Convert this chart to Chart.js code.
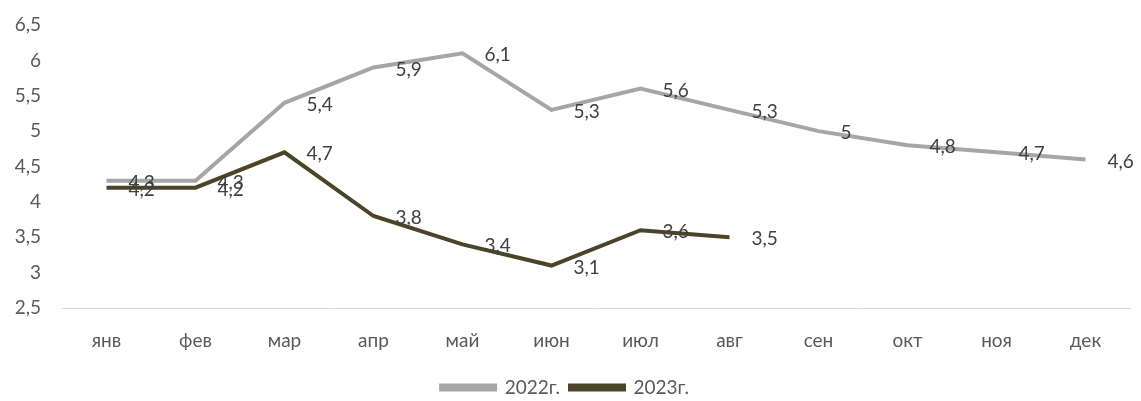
<!DOCTYPE html>
<html>
<head>
<meta charset="utf-8">
<script src="https://cdn.jsdelivr.net/npm/chart.js@4"></script>
<style>
    html, body { margin: 0; padding: 0; background: #fff; }
    #wrap { width: 1141px; height: 401px; position: relative; }
</style>
</head>
<body>
<div id="wrap"><canvas id="chart"></canvas></div>
<script>
// Data
const months = ['янв', 'фев', 'мар', 'апр', 'май', 'июн', 'июл', 'авг', 'сен', 'окт', 'ноя', 'дек'];
const values2022 = [4.3, 4.3, 5.4, 5.9, 6.1, 5.3, 5.6, 5.3, 5, 4.8, 4.7, 4.6];
const values2023 = [4.2, 4.2, 4.7, 3.8, 3.4, 3.1, 3.6, 3.5];
const yTicks = [2.5, 3, 3.5, 4, 4.5, 5, 5.5, 6, 6.5];

const colors = {
    y2022: '#a6a6a6',
    y2023: '#4b4429',
    axis: '#595959',
    label: '#404040',
    line: '#d9d9d9'
};

const FONT = 'Lato';
const fmt = v => String(v).replace('.', ',');

// Excel-style "right" data labels
const labelsPlugin = {
    id: 'pointLabels',
    afterDatasetsDraw(chart) {
        const ctx = chart.ctx;
        ctx.save();
        ctx.font = `19px ${FONT}`;
        ctx.fillStyle = colors.label;
        ctx.textAlign = 'left';
        ctx.textBaseline = 'middle';
        chart.data.datasets.forEach((ds, i) => {
            chart.getDatasetMeta(i).data.forEach((pt, j) => {
                ctx.fillText(fmt(ds.data[j]), pt.x + 22, pt.y + 2);
            });
        });
        ctx.restore();
    }
};

new Chart(document.getElementById('chart'), {
    type: 'line',
    data: {
        labels: months,
        datasets: [
            {
                label: '2022г.',
                data: values2022,
                borderColor: colors.y2022,
                backgroundColor: colors.y2022,
                borderWidth: 4,
                pointRadius: 0,
                tension: 0
            },
            {
                label: '2023г.',
                data: values2023,
                borderColor: colors.y2023,
                backgroundColor: colors.y2023,
                borderWidth: 4,
                pointRadius: 0,
                tension: 0
            }
        ]
    },
    options: {
        responsive: true,
        maintainAspectRatio: false,
        animation: false,
        events: [],
        layout: { padding: { top: 25, right: 11, left: 0, bottom: -6 } },
        scales: {
            y: {
                min: 2.5,
                max: 6.5,
                afterBuildTicks: s => { s.ticks = yTicks.map(v => ({ value: v })); },
                afterFit: s => {
                    s.width = 62;
                    s.paddingTop = 0;
                    s.paddingBottom = 0;
                },
                grid: { display: false, drawTicks: false },
                border: { display: false },
                ticks: {
                    padding: 21,
                    color: colors.axis,
                    font: { family: FONT, size: 19 },
                    callback: v => fmt(v)
                }
            },
            x: {
                offset: true,
                afterFit: s => { s.height = 60; },
                grid: { display: false, drawTicks: false, offset: true },
                border: { display: true, color: colors.line, width: 1 },
                ticks: {
                    padding: 21,
                    color: colors.axis,
                    font: { family: FONT, size: 19 },
                    maxRotation: 0
                }
            }
        },
        plugins: {
            legend: {
                position: 'bottom',
                labels: {
                    boxWidth: 54,
                    boxHeight: 4,
                    padding: 10,
                    color: colors.axis,
                    font: { family: FONT, size: 19 }
                }
            },
            tooltip: { enabled: false }
        }
    },
    plugins: [labelsPlugin]
});
</script>
</body>
</html>
